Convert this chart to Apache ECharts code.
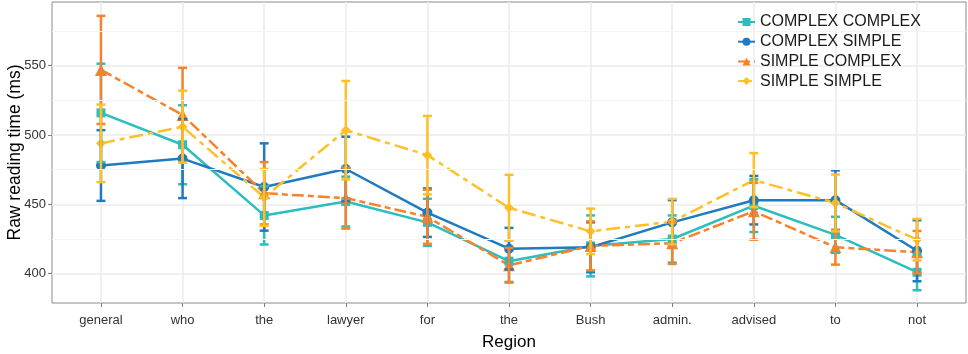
<!DOCTYPE html>
<html><head><meta charset="utf-8">
<script src="https://cdn.jsdelivr.net/npm/echarts@6/dist/echarts.min.js"></script>
<style>html,body{margin:0;padding:0;background:#fff}#c{width:968px;height:354px}</style>
</head><body><div id="c"></div>
<script>
const categories = ['general','who','the','lawyer','for','the','Bush','admin.','advised','to','not'];
const seriesNames = ['COMPLEX COMPLEX','COMPLEX SIMPLE','SIMPLE COMPLEX','SIMPLE SIMPLE'];

const ccMean = [516, 493, 442, 452, 437, 409, 420, 425, 449, 428, 401];
const ccErr  = [35.5, 28.5, 21, 18, 17, 15, 22, 17, 19, 13, 13];
const csMean = [478, 483, 462.5, 475.5, 444, 418, 419, 437, 453, 453, 416.5];
const csErr  = [25.5, 28.5, 31.5, 23.3, 17.5, 15, 18, 16, 17.5, 21.5, 22];
const scMean = [547, 514.5, 458, 454.5, 441, 406, 420, 422, 445, 419, 415.5];
const scErr  = [39, 34, 22.5, 22, 19.5, 12.5, 17.7, 15, 20.5, 12.5, 15.3];
const ssMean = [494, 506, 455, 503.5, 485.5, 447.5, 430.5, 437.5, 467.5, 451, 424.5];
const ssErr  = [28, 26, 20.5, 35.5, 28.3, 23.8, 16.4, 16.4, 19.5, 20.5, 15];

const yTicks = [400, 450, 500, 550];
const yMinorTicks = [425, 475, 525, 575];

const colors = ['#2CBDBF', '#1F7BC0', '#F7822A', '#FDC028'];
const symbols = ['rect', 'circle', 'triangle', 'diamond'];
const symbolSizes = [9, 10, 12, 10];
const dashes = ['solid', 'solid', [12, 4, 6, 4], [14, 5, 5, 5]];
const means = [ccMean, csMean, scMean, ssMean];
const errs = [ccErr, csErr, scErr, ssErr];

const FONT = '"Liberation Sans", Arial, Helvetica, sans-serif';
const capW = 0.055;

function errRenderer(color) {
  return function (params, api) {
    const x = api.value(0), y = api.value(1), e = api.value(2);
    const hi = api.coord([x, y + e]), lo = api.coord([x, y - e]);
    const l1 = api.coord([x - capW, y + e]), r1 = api.coord([x + capW, y + e]);
    const l2 = api.coord([x - capW, y - e]), r2 = api.coord([x + capW, y - e]);
    const style = { stroke: color, lineWidth: 2.5, fill: null };
    return { type: 'group', children: [
      { type: 'line', shape: { x1: hi[0], y1: hi[1], x2: lo[0], y2: lo[1] }, style: style },
      { type: 'line', shape: { x1: l1[0], y1: l1[1], x2: r1[0], y2: r1[1] }, style: style },
      { type: 'line', shape: { x1: l2[0], y1: l2[1], x2: r2[0], y2: r2[1] }, style: style }
    ]};
  };
}

const idx = categories.map((c, i) => i);
const series = [];
// faint minor grid lines (drawn beneath data)
series.push({
  name: 'minor grid', type: 'line', z: 1, data: [], silent: true, animation: false,
  markLine: {
    silent: true, symbol: ['none', 'none'], animation: false,
    label: { show: false },
    lineStyle: { color: '#f4f4f4', width: 1, type: 'solid' },
    emphasis: { disabled: true },
    data: yMinorTicks.map(v => ({ yAxis: v }))
  }
});
seriesNames.forEach((name, k) => {
  series.push({
    name: name, type: 'line', z: 3,
    data: idx.map(i => [i, means[k][i]]),
    symbol: symbols[k], symbolSize: symbolSizes[k],
    itemStyle: { color: colors[k] },
    lineStyle: { color: colors[k], width: 2.5, type: dashes[k] },
    emphasis: { disabled: true }, animation: false
  });
});
seriesNames.forEach((name, k) => {
  series.push({
    name: name + ' err', type: 'custom', z: 4,
    renderItem: errRenderer(colors[k]),
    encode: { x: 0, y: 1 },
    data: idx.map(i => [i, means[k][i], errs[k][i]]),
    animation: false, silent: true
  });
});

const chart = echarts.init(document.getElementById('c'), null, { renderer: 'canvas' });
chart.setOption({
  animation: false,
  backgroundColor: '#ffffff',
  textStyle: { fontFamily: FONT },
  grid: { left: 52, right: 2, top: 2, bottom: 51, containLabel: false, outerBoundsMode: 'none',
          show: true, borderColor: '#8a8a8a', borderWidth: 1, backgroundColor: 'transparent' },
  legend: {
    data: seriesNames, left: 732, top: 9, orient: 'vertical',
    itemWidth: 17, itemHeight: 10, itemGap: 3.7,
    textStyle: { fontSize: 16, color: '#1a1a1a', fontFamily: FONT },
    selectedMode: false
  },
  xAxis: {
    type: 'value', min: -0.6, max: 10.6,
    name: 'Region', nameLocation: 'middle', nameGap: 31, nameMoveOverlap: false,
    nameTextStyle: { fontSize: 17, color: '#000', fontFamily: FONT },
    axisLine: { show: false, onZero: false },
    axisTick: { show: true, length: 4, lineStyle: { color: '#7f7f7f' }, customValues: idx },
    axisLabel: { customValues: idx, formatter: v => categories[Math.round(v)], fontSize: 13, color: '#333', margin: 11, fontFamily: FONT },
    splitLine: { show: true, lineStyle: { color: '#ebebeb', width: 1.5 } }
  },
  yAxis: {
    type: 'value', min: 378.8, max: 596,
    name: 'Raw reading time (ms)', nameLocation: 'middle', nameGap: 28, nameRotate: 90, nameMoveOverlap: false,
    nameTextStyle: { fontSize: 17.5, color: '#000', fontFamily: FONT },
    axisLine: { show: false, onZero: false },
    axisTick: { show: true, length: 4, lineStyle: { color: '#7f7f7f' }, customValues: yTicks },
    axisLabel: { customValues: yTicks, fontSize: 13, color: '#333', margin: 6, fontFamily: FONT },
    splitLine: { show: true, lineStyle: { color: '#ebebeb', width: 1.5 } }
  },
  series: series
});
</script>
</body></html>
